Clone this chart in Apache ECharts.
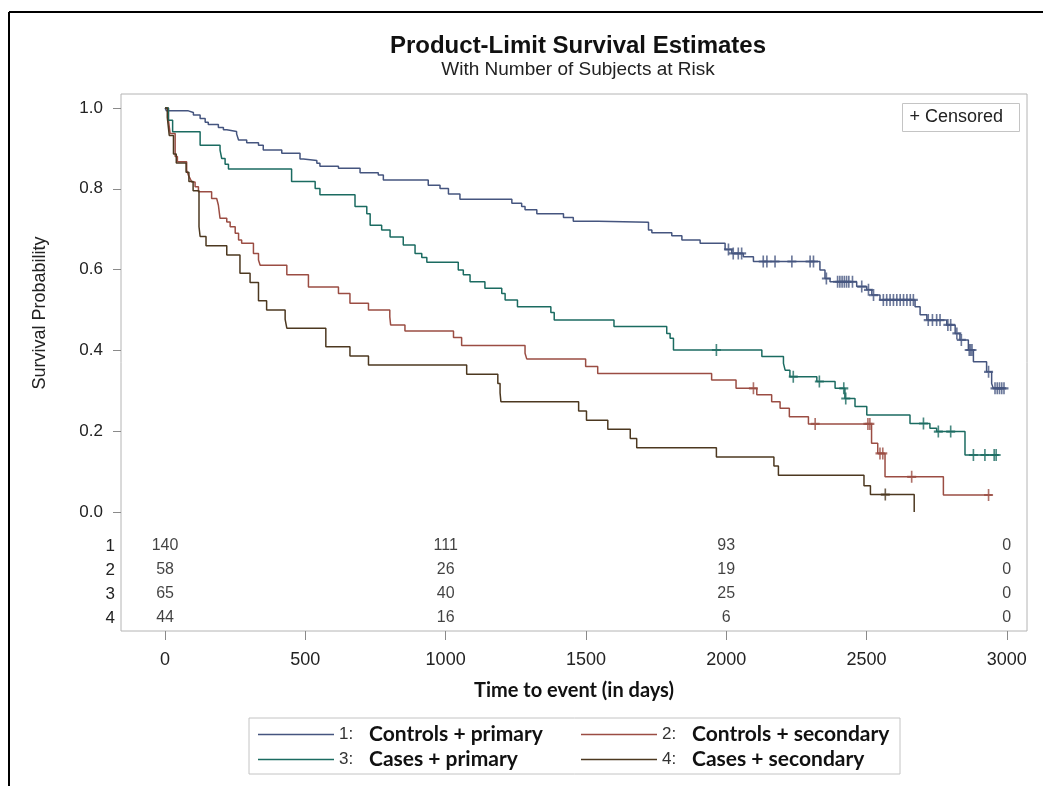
<!DOCTYPE html>
<html>
<head>
<meta charset="utf-8">
<title>Product-Limit Survival Estimates</title>
<script src="https://cdn.jsdelivr.net/npm/echarts@6/dist/echarts.min.js"></script>
<style>
  html, body { margin: 0; padding: 0; background: #fff; }
  #chart { width: 1043px; height: 786px; }
</style>
</head>
<body>
<div id="chart"></div>
<script>
// ---- data ----
const groupNames = ['Controls + primary', 'Controls + secondary', 'Cases + primary', 'Cases + secondary'];
const groupColors = ['#45557f', '#9b4d43', '#1b6b61', '#4c3820'];

const timeTicks = [0, 500, 1000, 1500, 2000, 2500, 3000];
const survTicks = [0, 0.2, 0.4, 0.6, 0.8, 1.0];

// Kaplan-Meier step points [time, survival]
const steps1 = [[0,1],[5,0.993],[83,0.989],[101,0.983],[125,0.974],[143,0.965],[154,0.959],[190,0.952],[208,0.946],[220,0.942],[255,0.936],[262,0.921],[291,0.914],[333,0.908],[350,0.896],[416,0.888],[481,0.874],[493,0.870],[541,0.863],[552,0.856],[618,0.851],[695,0.840],[760,0.834],[778,0.822],[938,0.809],[980,0.801],[1010,0.787],[1051,0.774],[1236,0.764],[1271,0.756],[1283,0.748],[1325,0.738],[1420,0.729],[1455,0.720],[1544,0.717],[1723,0.698],[1735,0.691],[1806,0.684],[1842,0.673],[1907,0.665],[1996,0.650],[2020,0.640],[2061,0.632],[2097,0.620],[2334,0.599],[2352,0.578],[2370,0.570],[2465,0.558],[2501,0.550],[2519,0.537],[2548,0.525],[2673,0.508],[2691,0.488],[2715,0.475],[2786,0.463],[2816,0.442],[2833,0.426],[2863,0.401],[2881,0.372],[2928,0.347],[2946,0.318],[2952,0.306],[2995,0.306]];
const steps2 = [[0,1],[12,0.970],[18,0.937],[36,0.880],[44,0.867],[77,0.846],[83,0.834],[89,0.826],[95,0.817],[107,0.805],[119,0.793],[166,0.776],[184,0.772],[190,0.760],[196,0.727],[220,0.718],[232,0.706],[250,0.690],[262,0.673],[273,0.665],[315,0.640],[333,0.624],[339,0.611],[434,0.587],[511,0.557],[618,0.541],[659,0.517],[725,0.500],[801,0.483],[804,0.463],[855,0.448],[1028,0.432],[1057,0.412],[1283,0.393],[1289,0.379],[1499,0.360],[1542,0.343],[1948,0.327],[2035,0.306],[2109,0.290],[2162,0.273],[2192,0.257],[2225,0.236],[2293,0.218],[2518,0.170],[2540,0.145],[2566,0.087],[2774,0.042],[2947,0.042]];
const steps3 = [[0,1],[12,0.970],[27,0.941],[125,0.908],[196,0.896],[202,0.875],[214,0.861],[226,0.849],[451,0.818],[535,0.801],[552,0.785],[677,0.756],[719,0.738],[731,0.710],[772,0.698],[802,0.681],[849,0.661],[891,0.640],[915,0.630],[933,0.618],[1045,0.599],[1063,0.587],[1087,0.570],[1140,0.554],[1200,0.541],[1212,0.525],[1256,0.508],[1375,0.494],[1387,0.475],[1600,0.459],[1788,0.442],[1800,0.430],[1812,0.401],[2127,0.385],[2204,0.368],[2210,0.351],[2227,0.335],[2323,0.323],[2388,0.306],[2423,0.281],[2459,0.261],[2501,0.240],[2655,0.219],[2726,0.207],[2750,0.199],[2851,0.141],[2970,0.141]];
const steps4 = [[0,1],[8,0.977],[15,0.932],[30,0.886],[40,0.864],[75,0.841],[85,0.818],[100,0.795],[121,0.706],[125,0.682],[146,0.659],[220,0.636],[267,0.591],[303,0.568],[333,0.523],[362,0.500],[428,0.477],[434,0.455],[573,0.409],[659,0.386],[725,0.364],[1075,0.341],[1186,0.318],[1194,0.295],[1197,0.273],[1474,0.250],[1502,0.227],[1578,0.205],[1658,0.182],[1681,0.159],[1965,0.136],[2170,0.114],[2186,0.091],[2491,0.065],[2514,0.043],[2670,0.0]];

// censoring times per group
const censor1 = [2008,2025,2043,2055,2132,2145,2174,2234,2299,2311,2357,2397,2405,2413,2421,2429,2437,2450,2483,2507,2525,2560,2572,2584,2596,2608,2620,2632,2644,2656,2667,2720,2735,2750,2762,2790,2800,2822,2838,2866,2871,2876,2935,2958,2966,2974,2982,2990];
const censor2 = [2097,2317,2505,2512,2548,2558,2661,2935];
const censor3 = [1965,2239,2332,2419,2426,2703,2756,2800,2881,2922,2955,2962];
const censor4 = [2567];

// number at risk
const riskTimes = [0, 1000, 2000, 3000];
const riskRows = ['1', '2', '3', '4'];
const atRisk1 = [140, 111, 93, 0];
const atRisk2 = [58, 26, 19, 0];
const atRisk3 = [65, 40, 25, 0];
const atRisk4 = [44, 16, 6, 0];

// ---- chart ----
const allSteps = [steps1, steps2, steps3, steps4];
const allCensor = [censor1, censor2, censor3, censor4];
const allRisk = [atRisk1, atRisk2, atRisk3, atRisk4];

function survivalAt(steps, t) {
  let s = steps[0][1];
  for (const [ti, si] of steps) {
    if (ti <= t) s = si; else break;
  }
  return s;
}

const plusSymbol = 'path://M0,4.5 H4.5 V0 H6.5 V4.5 H11 V6.5 H6.5 V11 H4.5 V6.5 H0 Z';

const series = [];
allSteps.forEach((st, i) => {
  series.push({
    name: groupNames[i],
    type: 'line',
    step: 'end',
    xAxisIndex: 0, yAxisIndex: 0,
    data: st,
    showSymbol: false,
    symbol: 'none',
    lineStyle: { color: groupColors[i], width: 1.5 },
    itemStyle: { color: groupColors[i] },
    z: 3
  });
});
allCensor.forEach((cs, i) => {
  series.push({
    name: groupNames[i] + ' (censored)',
    type: 'scatter',
    xAxisIndex: 0, yAxisIndex: 0,
    data: cs.map(t => [t, survivalAt(allSteps[i], t)]),
    symbol: plusSymbol,
    symbolSize: [9, 12],
    itemStyle: { color: groupColors[i] },
    z: 4
  });
});
allRisk.forEach((counts, i) => {
  series.push({
    name: 'at risk ' + riskRows[i],
    type: 'scatter',
    xAxisIndex: 1, yAxisIndex: 1,
    data: riskTimes.map((t, k) => [t, riskRows[i], counts[k]]),
    symbolSize: 1,
    itemStyle: { color: 'transparent' },
    label: {
      show: true,
      position: 'inside',
      formatter: p => String(p.value[2]),
      fontFamily: 'Liberation Sans',
      fontSize: 16,
      color: '#111'
    }
  });
});

const option = {
  animation: false,
  backgroundColor: '#fff',
  grid: [
    { left: 121, top: 94, width: 906, height: 537, show: true, borderColor: '#b4b4b4', borderWidth: 1, backgroundColor: 'transparent' },
    { left: 121, top: 534, width: 906, height: 96, show: false }
  ],
  xAxis: [
    {
      gridIndex: 0, type: 'value', min: -157, max: 3072, position: 'bottom',
      axisLine: { show: false, onZero: false },
      splitLine: { show: false },
      axisTick: { show: true, inside: false, customValues: timeTicks, length: 9, lineStyle: { color: '#8a8a8a' } },
      axisLabel: { customValues: timeTicks, margin: 20, fontSize: 18, fontFamily: 'Liberation Sans', color: '#222', formatter: v => String(v) },
      name: 'Time to event (in days)',
      nameLocation: 'middle',
      nameGap: 50,
      nameTextStyle: { fontFamily: 'Lato', fontWeight: 'bold', fontSize: 20, color: '#111' }
    },
    {
      gridIndex: 1, type: 'value', min: -157, max: 3072, show: false
    }
  ],
  yAxis: [
    {
      gridIndex: 0, type: 'value', min: -0.2946, max: 1.0347, position: 'left',
      axisLine: { show: false, onZero: false },
      splitLine: { show: false },
      axisTick: { show: true, inside: false, customValues: survTicks, length: 8, lineStyle: { color: '#8a8a8a' } },
      axisLabel: { customValues: survTicks, margin: 18, formatter: v => v.toFixed(1), fontFamily: 'Liberation Sans', fontSize: 17, color: '#222' }
    },
    {
      gridIndex: 1, type: 'category', data: riskRows, inverse: true,
      axisLine: { show: false, onZero: false },
      axisTick: { show: false },
      splitLine: { show: false },
      axisLabel: { margin: 6, fontFamily: 'Liberation Sans', fontSize: 17, color: '#222' }
    }
  ],
  legend: {
    data: groupNames,
    left: 249,
    top: 718,
    width: 660,
    orient: 'horizontal',
    align: 'left',
    itemGap: 4,
    itemWidth: 76,
    itemHeight: 1.5,
    icon: 'rect',
    padding: [6, 0, 4, 9],
    borderColor: '#c4c4c4',
    borderWidth: 1,
    selectedMode: false,
    formatter: name => '{n|' + (groupNames.indexOf(name) + 1) + ':}{t|' + name + '}',
    textStyle: {
      rich: {
        n: { fontFamily: 'Liberation Sans', fontSize: 17, color: '#333', width: 30, lineHeight: 20 },
        t: { fontFamily: 'Lato', fontWeight: 'bold', fontSize: 21, color: '#111', width: 208, lineHeight: 20 }
      }
    }
  },
  graphic: [
    { type: 'line', shape: { x1: 9, y1: 12, x2: 1043, y2: 12 }, style: { stroke: '#000', lineWidth: 2 }, silent: true },
    { type: 'line', shape: { x1: 9, y1: 12, x2: 9, y2: 786 }, style: { stroke: '#000', lineWidth: 2 }, silent: true },
    {
      type: 'text', x: 578, y: 46,
      style: { text: 'Product-Limit Survival Estimates', align: 'center', verticalAlign: 'middle',
               fontFamily: 'Liberation Sans', fontWeight: 'bold', fontSize: 24, fill: '#111' }
    },
    {
      type: 'text', x: 578, y: 70,
      style: { text: 'With Number of Subjects at Risk', align: 'center', verticalAlign: 'middle',
               fontFamily: 'Liberation Sans', fontSize: 19, fill: '#222' }
    },
    {
      type: 'text', x: 40, y: 313, rotation: Math.PI / 2,
      style: { text: 'Survival Probability', align: 'center', verticalAlign: 'middle',
               fontFamily: 'Liberation Sans', fontSize: 18, fill: '#222' }
    },
    {
      type: 'group', left: 902, top: 103,
      children: [
        { type: 'rect', shape: { x: 0, y: 0, width: 117, height: 28 }, style: { fill: '#fff', stroke: '#c4c4c4', lineWidth: 1 } },
        { type: 'text', x: 7, y: 14, style: { text: '+ Censored', verticalAlign: 'middle', fontFamily: 'Liberation Sans', fontSize: 18, fill: '#222' } }
      ]
    }
  ],
  series: series
};

const chart = echarts.init(document.getElementById('chart'), null, { renderer: 'canvas' });
chart.setOption(option);
</script>
</body>
</html>
